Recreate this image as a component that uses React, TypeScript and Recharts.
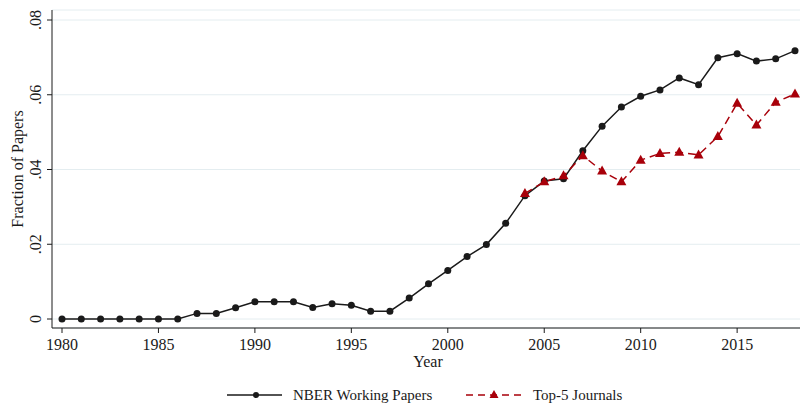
import { LineChart, Line, XAxis, YAxis, CartesianGrid, Legend } from "recharts";

const years = [
  1980, 1981, 1982, 1983, 1984, 1985, 1986, 1987, 1988, 1989, 1990, 1991, 1992,
  1993, 1994, 1995, 1996, 1997, 1998, 1999, 2000, 2001, 2002, 2003, 2004, 2005,
  2006, 2007, 2008, 2009, 2010, 2011, 2012, 2013, 2014, 2015, 2016, 2017, 2018,
];

const nberPapers = [
  0, 0, 0, 0, 0, 0, 0, 0.0015, 0.0015, 0.003, 0.0046, 0.0046, 0.0046, 0.0031,
  0.0041, 0.0037, 0.0021, 0.0021, 0.0056, 0.0094, 0.013, 0.0167, 0.0199, 0.0256,
  0.033, 0.0369, 0.0375, 0.045, 0.0516, 0.0567, 0.0596, 0.0613, 0.0645, 0.0627,
  0.0699, 0.071, 0.069, 0.0696, 0.0718,
];

const top5Journals = [
  null, null, null, null, null, null, null, null, null, null, null, null, null,
  null, null, null, null, null, null, null, null, null, null, null, 0.0336,
  0.0367, 0.0383, 0.0437, 0.0396, 0.0367, 0.0425, 0.0443, 0.0446, 0.0439,
  0.0488, 0.0577, 0.0519, 0.058, 0.0602,
];

const xTicks = [1980, 1985, 1990, 1995, 2000, 2005, 2010, 2015];
const yTicks = [0, 0.02, 0.04, 0.06, 0.08];

const data = years.map((year, i) => ({
  year,
  nber: nberPapers[i],
  top5: top5Journals[i],
}));

const FONT = '"Liberation Serif", "Times New Roman", serif';
const RED = "#a8000a";
const INK = "#1a1a1a";

const fmtY = (v: number) => (v === 0 ? "0" : v.toFixed(2).replace(/^0/, ""));

const YTick = (props: any) => {
  const { x, y, payload } = props;
  const tx = x - 4;
  return (
    <text
      x={tx}
      y={y}
      transform={`rotate(-90, ${tx}, ${y})`}
      textAnchor="middle"
      fontSize={16}
      fontFamily={FONT}
      fill={INK}
    >
      {fmtY(payload.value)}
    </text>
  );
};

const Triangle = (props: any) => {
  const { cx, cy, index } = props;
  if (cx == null || cy == null || top5Journals[index] == null) return <g key={`t-${index}`} />;
  return (
    <polygon
      key={`t-${index}`}
      points={`${cx},${cy - 5.5} ${cx - 5},${cy + 3.5} ${cx + 5},${cy + 3.5}`}
      fill={RED}
    />
  );
};

const LegendBox = () => (
  <svg width={801} height={30} style={{ display: "block" }}>
    <line x1={227} y1={22} x2={282} y2={22} stroke={INK} strokeWidth={1.5} />
    <circle cx={256} cy={22} r={3} fill={INK} />
    <text x={293} y={27} fontSize={15} fontFamily={FONT} fill={INK}>
      NBER Working Papers
    </text>
    <line
      x1={466}
      y1={22}
      x2={524}
      y2={22}
      stroke={RED}
      strokeWidth={1.5}
      strokeDasharray="7 5"
    />
    <polygon points="494,17 489.5,25 498.5,25" fill={RED} />
    <text x={533} y={27} fontSize={15} fontFamily={FONT} fill={INK}>
      Top-5 Journals
    </text>
  </svg>
);

export default function App() {
  return (
    <div
      style={{
        position: "absolute",
        left: 0,
        top: 0,
        width: 801,
        height: 406,
        background: "#fff",
      }}
    >
      <LineChart
        width={801}
        height={406}
        data={data}
        margin={{ top: 10, right: 1, left: 0, bottom: 3 }}
      >
        <CartesianGrid
          horizontal
          vertical={false}
          stroke="#e4edf0"
          strokeWidth={1}
        />
        <XAxis
          dataKey="year"
          type="number"
          domain={[1980, 2018]}
          ticks={xTicks}
          padding={{ left: 10, right: 5 }}
          height={45}
          tickSize={5}
          tickMargin={6}
          stroke={INK}
          tick={{ fontSize: 16, fontFamily: FONT, fill: INK }}
          label={{
            content: (p: any) => {
              const vb = p.viewBox;
              return (
                <text
                  x={vb.x + vb.width / 2 + 2}
                  y={vb.y + 39}
                  textAnchor="middle"
                  fontSize={16}
                  fontFamily={FONT}
                  fill={INK}
                >
                  Year
                </text>
              );
            },
          }}
        />
        <YAxis
          type="number"
          domain={[0, 0.08]}
          ticks={yTicks}
          padding={{ top: 10, bottom: 9 }}
          width={52}
          tickSize={5}
          stroke={INK}
          tick={<YTick />}
          label={{
            content: (p: any) => {
              const vb = p.viewBox;
              const cx = 23;
              const cy = vb.y + vb.height / 2;
              return (
                <text
                  x={cx}
                  y={cy}
                  transform={`rotate(-90, ${cx}, ${cy})`}
                  textAnchor="middle"
                  fontSize={16}
                  fontFamily={FONT}
                  fill={INK}
                >
                  Fraction of Papers
                </text>
              );
            },
          }}
        />
        <Legend verticalAlign="bottom" height={30} content={() => <LegendBox />} />
        <Line
          type="linear"
          dataKey="nber"
          name="NBER Working Papers"
          stroke={INK}
          strokeWidth={1.5}
          dot={{ r: 3.5, fill: INK, stroke: "none" }}
          activeDot={false}
          isAnimationActive={false}
        />
        <Line
          type="linear"
          dataKey="top5"
          name="Top-5 Journals"
          stroke={RED}
          strokeWidth={1.5}
          strokeDasharray="8 5"
          dot={<Triangle />}
          activeDot={false}
          isAnimationActive={false}
        />
      </LineChart>
    </div>
  );
}
